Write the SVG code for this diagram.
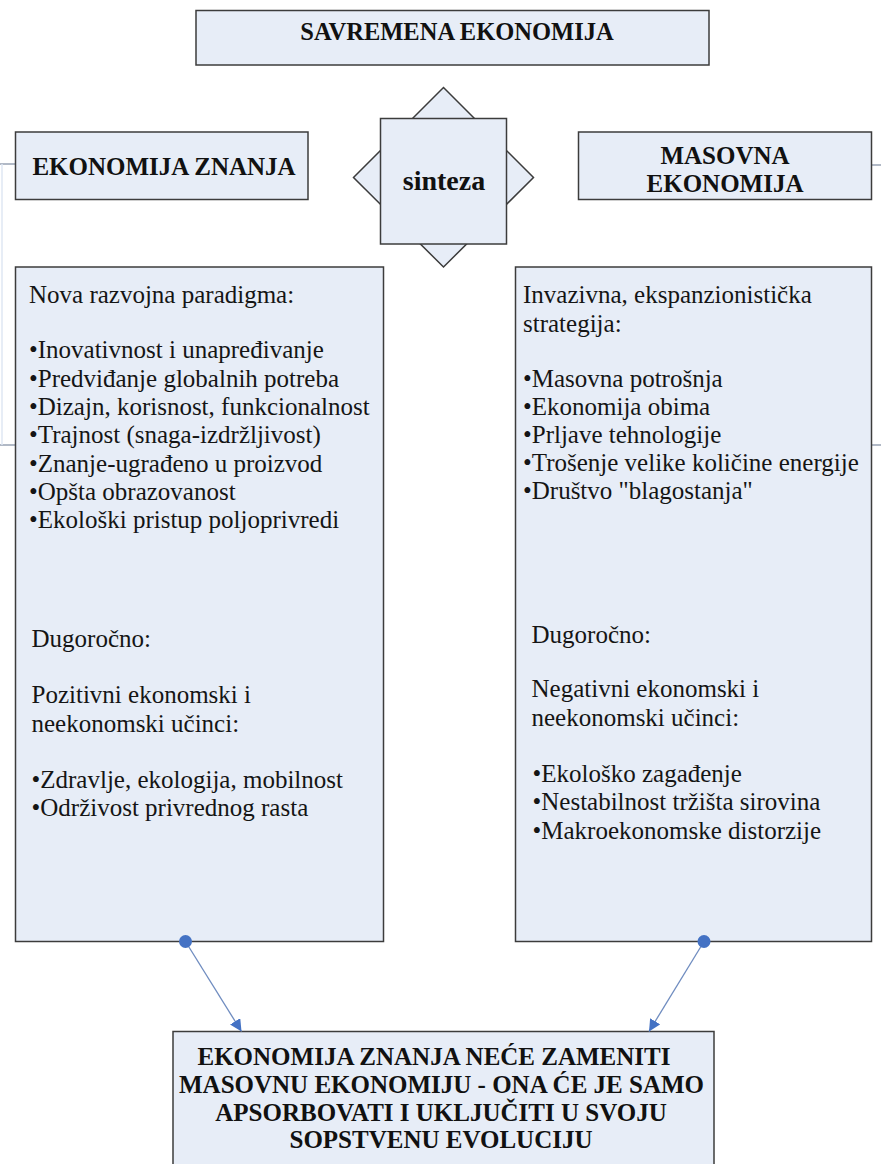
<svg xmlns="http://www.w3.org/2000/svg" width="881" height="1164" viewBox="0 0 881 1164">
<style>
.box{fill:#e7edf7;stroke:#3c3c3c;stroke-width:1.5}
.h{font-weight:bold;fill:#111;text-anchor:middle}
.t{font-size:25px;fill:#151515}
.edge{stroke:#6f8cc0;stroke-width:1.3;fill:none}
.dot{fill:#4472c4}
.stub{stroke:#7d8aa0;stroke-width:1.2}
</style>
<defs>
<marker id="arr" viewBox="0 0 10 10" refX="10" refY="5" markerWidth="12" markerHeight="12" markerUnits="userSpaceOnUse" orient="auto">
<path d="M0,0 L10,5 L0,10 z" fill="#4472c4"/>
</marker>
</defs>
<rect width="881" height="1164" fill="#ffffff"/>
<g id="stubs">
<line class="stub" x1="0" y1="164" x2="15.5" y2="164"/>
<line class="stub" x1="0" y1="445" x2="15.5" y2="445"/>
<line x1="2" y1="164" x2="2" y2="445" stroke="#dfe7f3" stroke-width="1.5"/>
<line class="stub" x1="872" y1="165" x2="881" y2="165"/>
<line class="stub" x1="872" y1="445" x2="881" y2="445"/>
</g>
<g font-family="Liberation Serif, Tinos, Times New Roman, Times, serif">
<g id="title">
<rect class="box" x="196" y="10.5" width="513" height="54.5"/>
<text class="h" x="457" y="39.5" font-size="24.5">SAVREMENA EKONOMIJA</text>
</g>
<g id="sinteza">
<polygon class="box" points="443.5,87.5 533.5,177.5 443.5,267 353.5,177.5"/>
<rect class="box" x="380.5" y="118.5" width="126" height="125.5"/>
<text class="h" x="444" y="190" font-size="28">sinteza</text>
</g>
<g id="ekonomija-znanja">
<rect class="box" x="15.5" y="132" width="292.5" height="67.5"/>
<text class="h" x="164" y="175" font-size="25">EKONOMIJA ZNANJA</text>
</g>
<g id="masovna-ekonomija">
<rect class="box" x="578.5" y="132" width="293" height="67.5"/>
<text class="h" x="725" y="163.5" font-size="25">MASOVNA</text>
<text class="h" x="725" y="191.5" font-size="25">EKONOMIJA</text>
</g>
<g id="left-box">
<rect class="box" x="15.5" y="267" width="368" height="674.5"/>
<text class="t" x="29" y="303.3">Nova razvojna paradigma:</text>
<text class="t" x="29" y="358.3">•Inovativnost i unapređivanje</text>
<text class="t" x="29" y="386.7">•Predviđanje globalnih potreba</text>
<text class="t" x="29" y="415">•Dizajn, korisnost, funkcionalnost</text>
<text class="t" x="29" y="443.3">•Trajnost (snaga-izdržljivost)</text>
<text class="t" x="29" y="471.7">•Znanje-ugrađeno u proizvod</text>
<text class="t" x="29" y="500">•Opšta obrazovanost</text>
<text class="t" x="29" y="528.3">•Ekološki pristup poljoprivredi</text>
<text class="t" x="31.5" y="646.7">Dugoročno:</text>
<text class="t" x="31.5" y="703.3">Pozitivni ekonomski i</text>
<text class="t" x="31.5" y="731.6">neekonomski učinci:</text>
<text class="t" x="31.5" y="787.5">•Zdravlje, ekologija, mobilnost</text>
<text class="t" x="31.5" y="815.5">•Održivost privrednog rasta</text>
</g>
<g id="right-box">
<rect class="box" x="515.5" y="267" width="356" height="674.5"/>
<text class="t" x="523" y="303.3">Invazivna, ekspanzionistička</text>
<text class="t" x="523" y="331.7">strategija:</text>
<text class="t" x="523" y="386.7">•Masovna potrošnja</text>
<text class="t" x="523" y="414.5">•Ekonomija obima</text>
<text class="t" x="523" y="442.7">•Prljave tehnologije</text>
<text class="t" x="523" y="471.2">•Trošenje velike količine energije</text>
<text class="t" x="523" y="499.3">•Društvo "blagostanja"</text>
<text class="t" x="531.5" y="643.3">Dugoročno:</text>
<text class="t" x="531.5" y="697.3">Negativni ekonomski i</text>
<text class="t" x="531.5" y="725.8">neekonomski učinci:</text>
<text class="t" x="532.5" y="782">•Ekološko zagađenje</text>
<text class="t" x="532.5" y="810.3">•Nestabilnost tržišta sirovina</text>
<text class="t" x="532.5" y="838.6">•Makroekonomske distorzije</text>
</g>
<g id="conclusion">
<rect class="box" x="173" y="1031.5" width="541" height="140"/>
<text class="h" x="434" y="1064.5" font-size="25">EKONOMIJA ZNANJA NEĆE ZAMENITI</text>
<text class="h" x="441.5" y="1092.5" font-size="25">MASOVNU EKONOMIJU - ONA ĆE JE SAMO</text>
<text class="h" x="441" y="1120.5" font-size="25">APSORBOVATI I UKLJUČITI U SVOJU</text>
<text class="h" x="441" y="1147.5" font-size="25">SOPSTVENU EVOLUCIJU</text>
</g>
</g>
<g id="connectors">
<line class="edge" x1="185.5" y1="941.5" x2="241.5" y2="1031.5" marker-end="url(#arr)"/>
<circle class="dot" cx="185.5" cy="941.5" r="6.5"/>
<line class="edge" x1="704" y1="941.5" x2="649" y2="1031.5" marker-end="url(#arr)"/>
<circle class="dot" cx="704" cy="941.5" r="6.5"/>
</g>
</svg>
